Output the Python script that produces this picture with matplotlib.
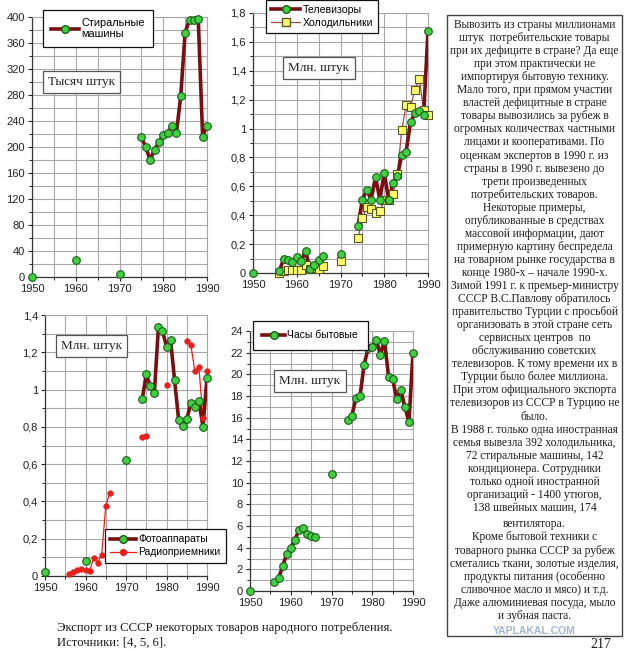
import numpy as np
import matplotlib
matplotlib.use("Agg")
import matplotlib.pyplot as plt
from matplotlib.lines import Line2D

# ---------------- data ----------------
wash_years = [1950, 1960, 1970, 1975, 1976, 1977, 1978, 1979, 1980, 1981, 1982,
              1983, 1984, 1985, 1986, 1987, 1988, 1989, 1990]
wash_vals = [0, 26, 4, 215, 200, 180, 196, 207, 219, 221, 233,
             221, 279, 376, 396, 396, 397, 216, 233]

tv_years = [1950, 1956, 1957, 1958, 1959, 1960, 1961, 1962, 1963, 1964, 1965, 1966,
            1970, 1974, 1975, 1976, 1977, 1978, 1979, 1980, 1981, 1982, 1983,
            1984, 1985, 1986, 1987, 1988, 1989, 1990]
tv_vals = [0, 0.014, 0.095, 0.09, 0.074, 0.108, 0.083, 0.152, 0.03, 0.055, 0.09, 0.12,
           0.13, 0.325, 0.507, 0.575, 0.507, 0.665, 0.507, 0.695, 0.505, 0.62, 0.67,
           0.817, 0.84, 1.045, 1.105, 1.12, 1.094, 1.676]

fr_years = [1956, 1957, 1958, 1959, 1960, 1961, 1962, 1963, 1964, 1965, 1966,
            1970, 1974, 1975, 1976, 1977, 1978, 1979, 1980, 1981, 1982, 1983,
            1984, 1985, 1986, 1987, 1988, 1989, 1990]
fr_vals = [0.003, 0.012, 0.022, 0.02, 0.02, 0.02, 0.053, 0.025, 0.032, 0.025, 0.046,
           0.083, 0.24, 0.378, 0.457, 0.443, 0.413, 0.43, 0.505, 0.503, 0.55, 0.685,
           0.99, 1.16, 1.15, 1.27, 1.346, 1.13, 1.094]

cam_years = [1950, 1960, 1970, 1974, 1975, 1976, 1977, 1978, 1979, 1980, 1981,
             1982, 1983, 1984, 1985, 1986, 1987, 1988, 1989, 1990]
cam_vals = [0.02, 0.08, 0.622, 0.948, 1.082, 1.019, 0.983, 1.334, 1.316, 1.23, 1.266,
            1.05, 0.837, 0.805, 0.84, 0.927, 0.905, 0.94, 0.80, 1.064]

rad_years = [1956, 1957, 1958, 1959, 1960, 1961, 1962, 1963, 1964, 1965, 1966,
             1974, 1975, 1980, 1985, 1986, 1987, 1988, 1989, 1990]
rad_vals = [0.012, 0.022, 0.03, 0.036, 0.03, 0.027, 0.095, 0.072, 0.115, 0.375, 0.445,
            0.745, 0.75, 1.025, 1.26, 1.24, 1.10, 1.12, 0.85, 1.10]

clk_years = [1950, 1956, 1957, 1958, 1959, 1960, 1961, 1962, 1963, 1964, 1965, 1966,
             1970, 1974, 1975, 1976, 1977, 1978, 1979, 1980, 1981, 1982, 1983,
             1984, 1985, 1986, 1987, 1988, 1989, 1990]
clk_vals = [0, 0.8, 1.17, 2.3, 3.38, 4.0, 4.7, 5.62, 5.84, 5.22, 5.1, 4.95,
            10.8, 15.8, 16.2, 17.8, 18.0, 20.9, 22.4, 22.5, 23.2, 21.8, 23.1,
            19.8, 19.6, 17.7, 18.6, 17.0, 15.6, 22.0]

x_ticks = [1950, 1960, 1970, 1980, 1990]
x_tick_labels = ["1950", "1960", "1970", "1980", "1990"]

wash_yticks = [0, 40, 80, 120, 160, 200, 240, 280, 320, 360, 400]
wash_ylabels = ["0", "40", "80", "120", "160", "200", "240", "280", "320", "360", "400"]
tv_yticks = [0, 0.2, 0.4, 0.6, 0.8, 1.0, 1.2, 1.4, 1.6, 1.8]
tv_ylabels = ["0", "0,2", "0,4", "0,6", "0,8", "1", "1,2", "1,4", "1,6", "1,8"]
cam_yticks = [0, 0.2, 0.4, 0.6, 0.8, 1.0, 1.2, 1.4]
cam_ylabels = ["0", "0,2", "0,4", "0,6", "0,8", "1", "1,2", "1,4"]
clk_yticks = [0, 2, 4, 6, 8, 10, 12, 14, 16, 18, 20, 22, 24]
clk_ylabels = ["0", "2", "4", "6", "8", "10", "12", "14", "16", "18", "20", "22", "24"]

side_text = [
    "Вывозить из страны миллионами",
    "штук  потребительские товары",
    "при их дефиците в стране? Да еще",
    "при этом практически не",
    "импортируя бытовую технику.",
    "Мало того, при прямом участии",
    "властей дефицитные в стране",
    "товары вывозились за рубеж в",
    "огромных количествах частными",
    "лицами и кооперативами. По",
    "оценкам экспертов в 1990 г. из",
    "страны в 1990 г. вывезено до",
    "трети произведенных",
    "потребительских товаров.",
    "Некоторые примеры,",
    "опубликованные в средствах",
    "массовой информации, дают",
    "примерную картину беспредела",
    "на товарном рынке государства в",
    "конце 1980-х – начале 1990-х.",
    "Зимой 1991 г. к премьер-министру",
    "СССР В.С.Павлову обратилось",
    "правительство Турции с просьбой",
    "организовать в этой стране сеть",
    "сервисных центров  по",
    "обслуживанию советских",
    "телевизоров. К тому времени их в",
    "Турции было более миллиона.",
    "При этом официального экспорта",
    "телевизоров из СССР в Турцию не",
    "было.",
    "В 1988 г. только одна иностранная",
    "семья вывезла 392 холодильника,",
    "72 стиральные машины, 142",
    "кондиционера. Сотрудники",
    "только одной иностранной",
    "организаций - 1400 утюгов,",
    "138 швейных машин, 174",
    "",
    "вентилятора.",
    "Кроме бытовой техники с",
    "товарного рынка СССР за рубеж",
    "сметались ткани, золотые изделия,",
    "продукты питания (особенно",
    "сливочное масло и мясо) и т.д.",
    "Даже алюминиевая посуда, мыло",
    "и зубная паста.",
]

# ---------------- styles ----------------
W, H = 640, 652
SANS = ["Liberation Sans", "DejaVu Sans"]
SERIF = ["Liberation Serif", "DejaVu Serif"]
plt.rcParams["font.family"] = SANS

DARK = "#7a0f0f"
GREEN = "#3fd03f"
GEDGE = "#1d5a1d"
YEL = "#ffff66"
YEDGE = "#55552a"
FRLINE = "#a04a4a"
RED = "#e8201c"

fig = plt.figure(figsize=(W / 100, H / 100), dpi=100)
fig.patch.set_facecolor("white")


def ax_px(l, t, r, b):
    return fig.add_axes([l / W, 1 - b / H, (r - l) / W, (b - t) / H])


def runs(xs, ys):
    out, cx, cy = [], [xs[0]], [ys[0]]
    for x, y in zip(xs[1:], ys[1:]):
        if x - cx[-1] > 1:
            out.append((cx, cy))
            cx, cy = [x], [y]
        else:
            cx.append(x)
            cy.append(y)
    out.append((cx, cy))
    return out


def style_axes(ax, yticks, ylabels, ymax, ygrid):
    ax.set_xlim(1950, 1990)
    ax.set_ylim(0, ymax)
    ax.set_xticks(x_ticks)
    ax.set_xticklabels(x_tick_labels)
    ax.set_xticks(np.arange(1950, 1991, 5), minor=True)
    ax.set_yticks(yticks)
    ax.set_yticklabels(ylabels)
    ax.set_yticks(np.arange(0, ymax + ygrid / 2, ygrid), minor=True)
    ax.grid(True, which="both", color="#a8a8a8", lw=0.8)
    ax.set_axisbelow(True)
    ax.tick_params(labelsize=8, length=3, width=0.8, colors="#222222", pad=2)
    ax.tick_params(which="minor", length=2, width=0.6)
    for s in ("top", "right"):
        ax.spines[s].set_color("#a8a8a8")
        ax.spines[s].set_linewidth(0.8)
    for s in ("left", "bottom"):
        ax.spines[s].set_color("#333333")
        ax.spines[s].set_linewidth(0.9)


def plot_series(ax, xs, ys, color, lw, marker, mfc, mec, ms, mew=0.8):
    for rx, ry in runs(xs, ys):
        if len(rx) > 1:
            ax.plot(rx, ry, color=color, lw=lw, solid_capstyle="round", zorder=3)
    ax.plot(xs, ys, ls="none", marker=marker, mfc=mfc, mec=mec, ms=ms, mew=mew,
            zorder=4, clip_on=False)


def unit_box(text, l, t, r, b):
    fig.text((l + r) / 2 / W, 1 - (t + b) / 2 / H, text, ha="center", va="center",
             family=SERIF, fontsize=9.5, color="#222222",
             bbox=dict(boxstyle="square,pad=0.38", fc="white", ec="#555555", lw=0.9))


def legend(ax, handles, labels, l, t, fs=8, hl=2.5, bp=0.45):
    lg = ax.legend(handles, labels, loc="upper left",
                   bbox_to_anchor=(l / W, 1 - t / H), bbox_transform=fig.transFigure,
                   fancybox=False, framealpha=1, edgecolor="#111111", fontsize=fs,
                   handlelength=hl, handletextpad=0.2, borderpad=bp,
                   labelspacing=0.3, borderaxespad=0)
    lg.get_frame().set_linewidth(0.9)
    lg.set_zorder(10)
    return lg


def h_green(color=DARK, lw=2.6):
    return Line2D([], [], color=color, lw=lw, marker="o", mfc=GREEN, mec=GEDGE, ms=5.5)


# ---- panel 1: washing machines ----
ax1 = ax_px(32, 17, 207, 277)
style_axes(ax1, wash_yticks, wash_ylabels, 400, 20)
plot_series(ax1, wash_years, wash_vals, DARK, 2.6, "o", GREEN, GEDGE, 5.5)
legend(ax1, [h_green()], ["Стиральные\nмашины"], 43, 10, fs=7.9, hl=2.6, bp=0.7)
unit_box("Тысяч штук", 46, 74, 117, 90)

# ---- panel 2: TVs and fridges ----
ax2 = ax_px(253, 13, 428, 273)
style_axes(ax2, tv_yticks, tv_ylabels, 1.8, 0.1)
plot_series(ax2, fr_years, fr_vals, FRLINE, 0.9, "s", YEL, YEDGE, 5.5)
plot_series(ax2, tv_years, tv_vals, DARK, 2.6, "o", GREEN, GEDGE, 5.5)
h_fr = Line2D([], [], color=FRLINE, lw=0.9, marker="s", mfc=YEL, mec=YEDGE, ms=5.5)
legend(ax2, [h_green(), h_fr], ["Телевизоры", "Холодильники"], 266, 0, fs=7.6, hl=2.8, bp=0.45)
unit_box("Млн. штук", 280, 58, 358, 78)

# ---- panel 3: cameras and radios ----
ax3 = ax_px(45, 315, 207, 576)
style_axes(ax3, cam_yticks, cam_ylabels, 1.4, 0.1)
plot_series(ax3, rad_years, rad_vals, RED, 0.9, "o", RED, RED, 4.2, 0.3)
plot_series(ax3, cam_years, cam_vals, DARK, 2.6, "o", GREEN, GEDGE, 5.5)
h_rad = Line2D([], [], color=RED, lw=0.9, marker="o", mfc=RED, mec=RED, ms=4.2)
legend(ax3, [h_green(), h_rad], ["Фотоаппараты", "Радиоприемники"], 105, 529,
       fs=7.5, hl=2.5, bp=0.5)
unit_box("Млн. штук", 52, 335, 131, 357)

# ---- panel 4: clocks ----
ax4 = ax_px(250, 331, 413, 591)
style_axes(ax4, clk_yticks, clk_ylabels, 24, 1)
plot_series(ax4, clk_years, clk_vals, DARK, 2.6, "o", GREEN, GEDGE, 5.5)
legend(ax4, [h_green()], ["Часы бытовые"], 253, 321, fs=7.5, hl=2.2, bp=0.9)
unit_box("Млн. штук", 272, 370, 348, 392)

# ---- side text box ----
box = plt.Rectangle((447 / W, 1 - 636 / H), (622 - 447) / W, (636 - 15) / H,
                    transform=fig.transFigure, fc="white", ec="#444444", lw=1.0)
fig.add_artist(box)
y = 25.0
for i, line in enumerate(side_text):
    if line == "":
        y += 3.5
        continue
    fig.text(534.5 / W, 1 - y / H, line, ha="center", va="center",
             family=SERIF, fontsize=8.3, color="#1a1a1a")
    y += 13.05

fig.text(534 / W, 1 - 630.5 / H, "YAPLAKAL.COM", ha="center", va="center",
         fontsize=7.5, fontweight="bold", color="#7f9cc4", alpha=0.75)

# ---- caption ----
fig.text(57 / W, 1 - 628 / H, "Экспорт из СССР некоторых товаров народного потребления.",
         ha="left", va="center", family=SERIF, fontsize=9.2, color="#1a1a1a")
fig.text(57 / W, 1 - 643 / H, "Источники: [4, 5, 6].",
         ha="left", va="center", family=SERIF, fontsize=9.2, color="#1a1a1a")
fig.text(601 / W, 1 - 645 / H, "217", ha="center", va="center",
         family=SERIF, fontsize=10, color="#1a1a1a")

fig.savefig("out.png", dpi=100)
